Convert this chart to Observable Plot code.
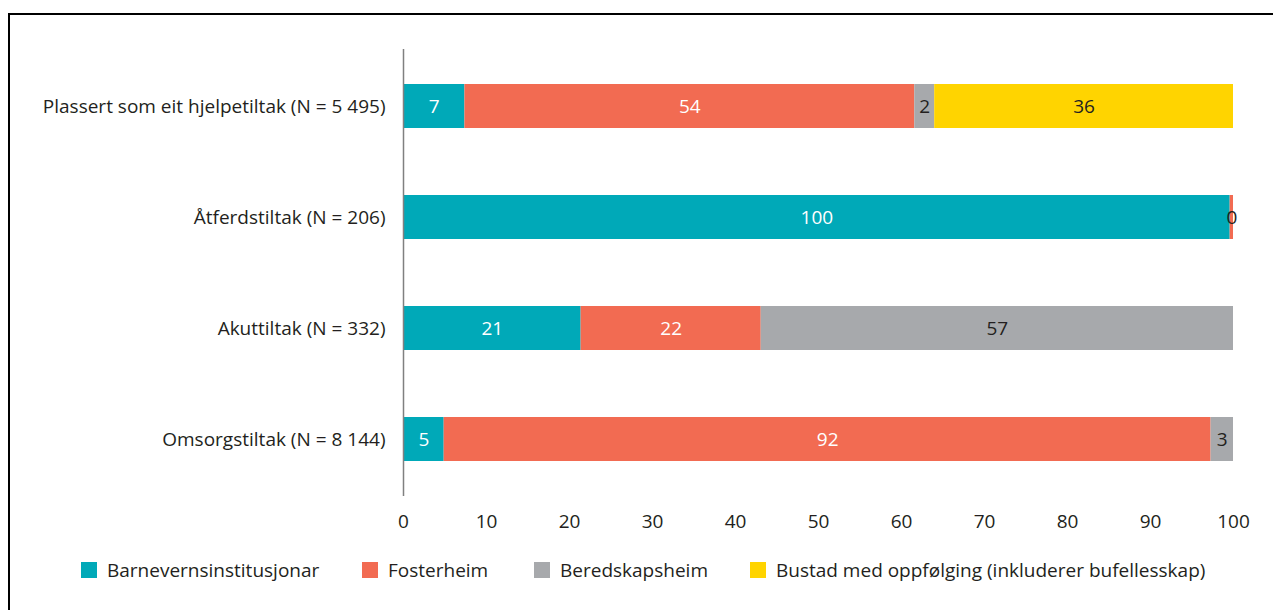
<!DOCTYPE html>
<html>
<head>
<meta charset="utf-8">
<script src="https://cdn.jsdelivr.net/npm/d3@7"></script>
<script src="https://cdn.jsdelivr.net/npm/@observablehq/plot@0.6"></script>
<style>
  html, body { margin: 0; padding: 0; background: #fff; overflow: hidden; width: 1273px; height: 610px; }
  #frame { position: absolute; left: 8px; top: 13px; width: 1400px; height: 700px; border-left: 2px solid #000; border-top: 2px solid #000; box-sizing: border-box; }
  #chart { position: absolute; left: 0; top: 0; }
  #legend { position: absolute; left: 0; top: 559px; width: 1273px; height: 24px; font-family: "Open Sans", sans-serif; font-size: 19px; color: #231f20; }
  .item { position: absolute; top: 0; display: flex; align-items: center; height: 22px; white-space: nowrap; }
  .sw { width: 16px; height: 16px; margin-right: 10px; flex: none; }
</style>
</head>
<body>
<div id="frame"></div>
<div id="chart"></div>
<div id="legend"></div>
<script>
// ---- data ----
const groups = [
  "Plassert som eit hjelpetiltak (N = 5 495)",
  "Åtferdstiltak (N = 206)",
  "Akuttiltak (N = 332)",
  "Omsorgstiltak (N = 8 144)"
];
const seriesNames = [
  "Barnevernsinstitusjonar",
  "Fosterheim",
  "Beredskapsheim",
  "Bustad med oppfølging (inkluderer bufellesskap)"
];
const seriesColors = ["#00a9b8", "#f26b52", "#a7a9ac", "#ffd400"];
// percentages per group, in series order
const institusjon = [7.4, 99.6, 21.4, 4.9];
const fosterheim  = [54.2, 0.4, 21.7, 92.4];
const beredskap   = [2.4, 0, 56.9, 2.7];
const bustad      = [36.0, 0, 0, 0];
const xTicks = [0, 10, 20, 30, 40, 50, 60, 70, 80, 90, 100];

// ---- table built from arrays ----
const valuesBySeries = [institusjon, fosterheim, beredskap, bustad];
const table = [];
groups.forEach((g, gi) => {
  seriesNames.forEach((s, si) => {
    const v = valuesBySeries[si][gi];
    if (v > 0) table.push({group: g, series: s, si, value: v});
  });
});

const darkText = "#231f20";
const isDark = d => d.si >= 2 || d.value < 1;

const font = "'Open Sans', sans-serif";
const stackOpts = (extra) => Plot.stackX({x: "value", y: "group", z: "series", order: seriesNames, ...extra});

const chart = Plot.plot({
  width: 1273,
  height: 545,
  marginTop: 49,
  marginBottom: 49,
  marginLeft: 403,
  marginRight: 40,
  style: {fontFamily: font, fontSize: "19px", color: darkText, background: "transparent"},
  x: {domain: [0, 100], ticks: xTicks, tickSize: 0, tickPadding: 18, label: null, axis: "bottom"},
  y: {domain: groups, paddingInner: 0.606, paddingOuter: 0.304, tickSize: 0, tickPadding: 18, label: null},
  color: {domain: seriesNames, range: seriesColors},
  marks: [
    Plot.barX(table, stackOpts({fill: "series"})),
    Plot.ruleX([0], {stroke: "#808080", strokeWidth: 1.5}),
    Plot.text(table, Plot.filter(d => !isDark(d), stackOpts({text: d => d3.format(".0f")(d.value), fill: "white", fontSize: 19}))),
    Plot.text(table, Plot.filter(isDark, stackOpts({text: d => d3.format(".0f")(d.value), fill: darkText, fontSize: 19})))
  ]
});
document.getElementById("chart").appendChild(chart);

// ---- legend ----
const legendX = [81, 362, 534, 750];
const legend = document.getElementById("legend");
seriesNames.forEach((s, i) => {
  const it = document.createElement("div");
  it.className = "item";
  it.style.left = legendX[i] + "px";
  const sw = document.createElement("span");
  sw.className = "sw";
  sw.style.background = seriesColors[i];
  const tx = document.createElement("span");
  tx.textContent = s;
  it.appendChild(sw); it.appendChild(tx);
  legend.appendChild(it);
});
</script>
</body>
</html>
